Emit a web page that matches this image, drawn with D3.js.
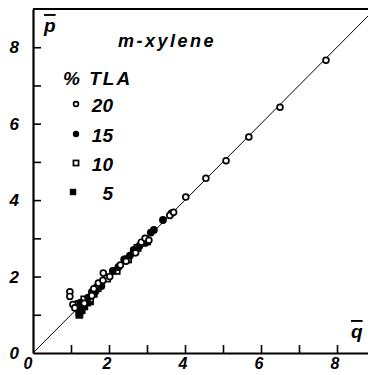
<!DOCTYPE html>
<html><head><meta charset="utf-8">
<script src="https://cdn.jsdelivr.net/npm/d3@7/dist/d3.min.js"></script>
<style>
html,body{margin:0;padding:0;background:#fff;}
svg{display:block;}
text{font-family:"Liberation Sans",Arial,sans-serif;font-weight:bold;font-style:italic;fill:#000;}
</style></head>
<body>
<svg id="chart" width="368" height="375"></svg>
<script>
// ---- data (q̄, p̄) ----
const tla20 = [[0.97,1.6],[0.97,1.48],[1.05,1.27],[1.1,1.18],[1.35,1.3],[1.55,1.5],[1.6,1.68],[1.72,1.83],[1.84,1.9],[1.85,2.09],[2.02,2.0],[2.3,2.3],[2.45,2.4],[2.7,2.62],[2.85,2.9],[2.95,3.0],[3.05,2.95],[3.6,3.6],[3.7,3.68],[4.02,4.08],[4.55,4.57],[5.08,5.03],[5.68,5.65],[6.5,6.43],[7.71,7.66]];
const tla15 = [[1.25,1.32],[1.3,1.2],[1.45,1.45],[1.55,1.6],[1.65,1.62],[1.8,1.75],[2.1,2.15],[2.25,2.25],[2.4,2.45],[2.55,2.55],[2.65,2.7],[2.8,2.8],[2.95,2.88],[3.1,3.15],[3.18,3.22],[3.42,3.48],[3.65,3.66]];
const tla10 = [[1.2,1.28],[1.35,1.4],[1.5,1.42],[1.7,1.7],[1.95,1.95],[2.2,2.15],[2.5,2.45],[2.75,2.75],[3.0,2.92]];
const tla5  = [[1.22,1.08],[1.22,1.0],[1.28,1.12],[1.35,1.22],[1.42,1.32],[1.5,1.35],[1.6,1.55]];
const legendLabels = ["20","15","10","5"];
const majorTicks = [0,2,4,6,8];
const minorTicks = [1,2,3,4,5,6,7,8];
const title = "m-xylene";
const legendTitle = "% TLA";

const svg = d3.select("#chart");
const x = d3.scaleLinear().domain([0,9]).range([33,375]);
const y = d3.scaleLinear().domain([0,9]).range([353,9]);

// diagonal p = q
svg.append("line").attr("x1",x(0)).attr("y1",y(0)).attr("x2",x(9)).attr("y2",y(9))
  .attr("stroke","#000").attr("stroke-width",1);

// top frame
svg.append("line").attr("x1",x(0)).attr("y1",y(9)).attr("x2",x(9)).attr("y2",y(9))
  .attr("stroke","#000").attr("stroke-width",2);

// axes
const gx = svg.append("g").attr("transform",`translate(0,${y(0)})`)
  .call(d3.axisBottom(x).tickValues(minorTicks).tickSize(-8).tickSizeOuter(0).tickFormat(""));
const gy = svg.append("g").attr("transform",`translate(${x(0)},0)`)
  .call(d3.axisLeft(y).tickValues(minorTicks).tickSize(-8).tickSizeOuter(0).tickFormat(""));
[gx,gy].forEach(g=>{
  g.select(".domain").attr("stroke","#000").attr("stroke-width",2.2);
  g.selectAll(".tick line").attr("stroke","#000").attr("stroke-width",1.6);
});

// tick labels
svg.selectAll(".xl").data(majorTicks).enter().append("text")
  .attr("x",d=>x(d)-(d===0?5:2)).attr("y",369).attr("text-anchor","middle")
  .attr("font-size",16).text(d=>d);
svg.selectAll(".yl").data(majorTicks).enter().append("text")
  .attr("x",19).attr("y",d=>y(d)+6).attr("text-anchor","end")
  .attr("font-size",17).text(d=>d);

// axis titles
svg.append("text").attr("x",44).attr("y",32).attr("font-size",19)
  .style("text-decoration","overline").text("p");
svg.append("text").attr("x",351).attr("y",338).attr("font-size",19)
  .style("text-decoration","overline").text("q");

// legend
svg.append("text").attr("x",118).attr("y",47).attr("font-size",18)
  .attr("letter-spacing",2.5).text(title);
svg.append("text").attr("x",63).attr("y",85).attr("font-size",19)
  .attr("letter-spacing",2).text(legendTitle);

function drawMarker(g, type, cx, cy, s){
  if(type===0) g.append("circle").attr("cx",cx).attr("cy",cy).attr("r",s*0.75).attr("fill","#fff").attr("stroke","#000").attr("stroke-width",1.7);
  if(type===1) g.append("circle").attr("cx",cx).attr("cy",cy).attr("r",s).attr("fill","#000");
  if(type===2) g.append("rect").attr("x",cx-s*0.8).attr("y",cy-s*0.8).attr("width",s*1.6).attr("height",s*1.6).attr("fill","#fff").attr("stroke","#000").attr("stroke-width",1.7);
  if(type===3) g.append("rect").attr("x",cx-s).attr("y",cy-s).attr("width",s*2).attr("height",s*2).attr("fill","#000");
}

const legY = [104,134,163,192];
const legX = [76,76,76,73];
legendLabels.forEach((lab,i)=>{
  drawMarker(svg, i, legX[i], legY[i], 3.2);
  svg.append("text").attr("x",113).attr("y",legY[i]+8).attr("text-anchor","end")
    .attr("font-size",19).text(lab);
});

// points
const series = [tla5, tla10, tla15, tla20];
const types = [3,2,1,0];
const pts = svg.append("g");
series.forEach((s,k)=>{
  s.forEach(d=>drawMarker(pts, types[k], x(d[0]), y(d[1]), 3.9));
});
</script>
</body></html>
